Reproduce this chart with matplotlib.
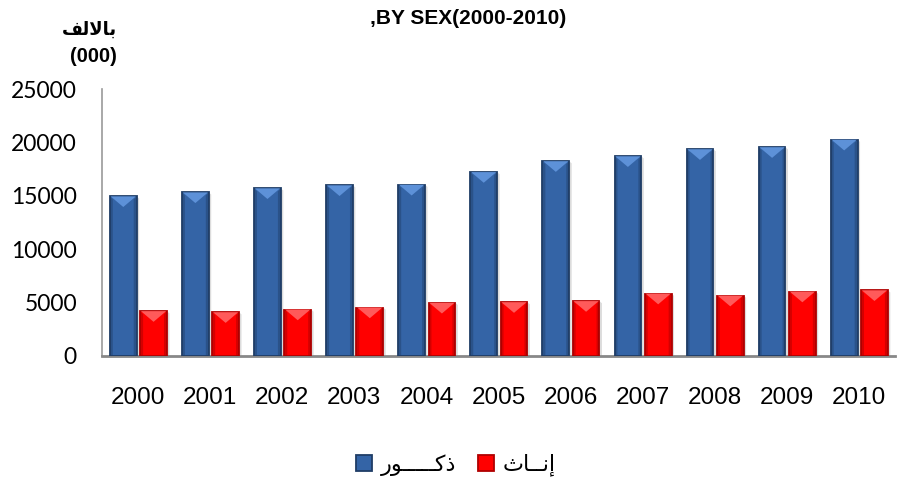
import numpy as np
import matplotlib
matplotlib.use("Agg")
import matplotlib.pyplot as plt
from matplotlib.patches import Polygon

# data (thousands)
years = ['2000', '2001', '2002', '2003', '2004', '2005',
         '2006', '2007', '2008', '2009', '2010']
males = [14950, 15320, 15700, 15980, 16030, 17220,
         18240, 18700, 19360, 19550, 20250]
females = [4200, 4100, 4350, 4540, 4980, 5040,
           5140, 5840, 5650, 6030, 6150]

title_txt = ',BY SEX(2000-2010)'
unit_ar = '\ufed2\ufedf\ufefb\ufe8e\ufe91'          # بالالف (shaped, visual order)
unit_num = '(000)'
lbl_male = '\ufead\ufeee' + '\u0640' * 5 + '\ufedb\ufeab'    # ذكــــور
lbl_female = '\ufe99\ufe8e' + '\u0640' * 2 + '\ufee7\ufe87'  # إنـــاث

fig = plt.figure(figsize=(8.99, 4.91), dpi=100)
ax = fig.add_axes([102/899, 1-356/491, 793/899, 267/491])

x = np.arange(len(years))
w = 0.37
b1 = ax.bar(x - 0.205, males, w, color='#3464a6', edgecolor='#1f3d66',
            linewidth=1.3, label=lbl_male, zorder=3)
b2 = ax.bar(x + 0.215, females, w, color='#ff0000', edgecolor='#b00000',
            linewidth=1.3, label=lbl_female, zorder=3)

# bevel on top of each bar, taken from the bar geometry
def bevel(bars, col, side):
    for r in bars:
        x0 = r.get_x(); bw = r.get_width(); top = r.get_height()
        d = 1000
        ax.add_patch(Polygon([[x0 + 0.01, top], [x0 + bw - 0.01, top],
                              [x0 + bw/2, top - d]],
                             closed=True, color=col, zorder=4, lw=0))
        # darker sides to fake the rounded look
        ax.add_patch(Polygon([[x0, 0], [x0 + 0.04, 0], [x0 + 0.04, top - d*0.3],
                              [x0, top]], closed=True, color=side,
                             alpha=0.45, zorder=4, lw=0))
        ax.add_patch(Polygon([[x0 + bw, 0], [x0 + bw - 0.04, 0],
                              [x0 + bw - 0.04, top - d*0.3], [x0 + bw, top]],
                             closed=True, color=side, alpha=0.45, zorder=4, lw=0))
        # soft shadow on right
        ax.add_patch(Polygon([[x0 + bw, 0], [x0 + bw + 0.035, 0],
                              [x0 + bw + 0.035, top - 200], [x0 + bw, top]],
                             closed=True, color='#dcdcdc', zorder=2, lw=0))
bevel(b1, '#5d91d8', '#1f3d66')
bevel(b2, '#ff5a5a', '#a00000')

ax.set_xlim(-0.5, len(years) - 0.5)
ax.set_ylim(0, 25000)
ax.set_yticks(range(0, 25001, 5000))
ax.set_yticklabels([str(v) for v in range(0, 25001, 5000)],
                   fontsize=16.5, family='Lato')
ax.set_xticks(x)
ax.set_xticklabels(years, fontsize=17.5, family='Liberation Sans')
ax.tick_params(axis='y', length=0, pad=18)
ax.tick_params(axis='x', length=0, pad=22)

for s in ['top', 'right']:
    ax.spines[s].set_visible(False)
ax.spines['left'].set_color('#999999')
ax.spines['left'].set_linewidth(1.2)
ax.spines['bottom'].set_color('#888888')
ax.spines['bottom'].set_linewidth(2.0)

fig.text(468/899, 1-19/491, title_txt, ha='center', va='center',
         fontsize=15, fontweight='bold', family='Liberation Sans')
fig.text(117/899, 1-30/491, unit_ar, ha='right', va='center',
         fontsize=13, fontweight='bold', family='DejaVu Sans')
fig.text(117/899, 1-56/491, unit_num, ha='right', va='center',
         fontsize=14.5, fontweight='bold', family='Liberation Sans')

fig.legend(handles=[b1, b2], labels=[lbl_male, lbl_female],
           loc='center', bbox_to_anchor=(456/899, 1-465/491), ncol=2,
           frameon=False, prop={'family': 'DejaVu Sans', 'size': 16},
           handlelength=0.7, handleheight=0.7, handletextpad=0.4,
           columnspacing=1.0)

fig.savefig('out.png', dpi=100)
